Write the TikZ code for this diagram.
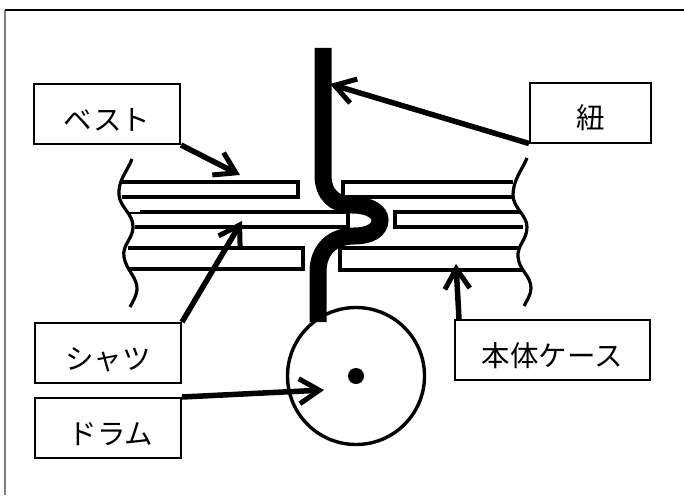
\documentclass[tikz,border=0pt]{standalone}
\usepackage{fontspec}
\newfontfamily\jpfont{Noto Sans CJK JP}
\usetikzlibrary{arrows.meta,positioning}

\begin{document}
\begin{tikzpicture}[
    x=1pt, y=-1pt,
    labelbox/.style={rectangle, draw=black, line width=2pt, fill=white, minimum height=60pt, inner sep=0pt, align=center, font=\jpfont\fontsize{28.5}{30}\selectfont, text height=32pt, text depth=0pt},
    arrow/.style={-{Straight Barb[length=20pt, width=25pt, line width=5pt]}, line width=5.5pt},
    layer/.style={line width=4pt, line join=miter},
    wavy/.style={line width=3.2pt, line cap=butt},
    cord/.style={line width=17pt, line cap=butt}
]
\useasboundingbox (0,0) rectangle (684,495);

% Frame
\draw[line width=1.2pt, gray] (5,495) -- (5,10);
\draw[line width=1.2pt] (5,10) -- (684,10);

% Vest layers
\draw[layer] (122,182) -- (298,182) -- (298,197) -- (122,197);
\draw[layer] (513,182) -- (343,182) -- (343,197) -- (513,197);

% Shirt layers
\draw[layer] (140,212) -- (348,212) -- (348,227) -- (135,227);
\draw[line width=1.5pt] (127,213) -- (142,213);
\draw[layer] (520,212) -- (395,212) -- (395,227) -- (523,227);

% Case layers
\draw[layer] (128,248) -- (303,248) -- (303,269) -- (128,269);
\draw[layer] (520,248) -- (340,248) -- (340,270) -- (522,270);

% Torn edges
\draw[wavy] (132,159) .. controls (127,172) and (118,180) .. (119,195)
    .. controls (120,208) and (134,214) .. (133,228)
    .. controls (132,240) and (122,245) .. (124,257)
    .. controls (126,270) and (138,278) .. (137,290)
    .. controls (136,297) and (133,301) .. (130,307);
\draw[wavy] (527,158) .. controls (522,170) and (513,180) .. (513,195)
    .. controls (513,208) and (527,215) .. (527,227)
    .. controls (527,240) and (517,245) .. (518,257)
    .. controls (519,270) and (531,276) .. (531,288)
    .. controls (531,295) and (527,300) .. (524,306);

% Drum
\node[circle, draw=black, line width=3.4pt, minimum size=137pt, inner sep=0pt] (drum) at (356,376) {};
\node[circle, fill=black, minimum size=16pt, inner sep=0pt] (axle) at (356,376) {};

% Cord
\draw[cord] (323,48) -- (323,175) .. controls (323,195) and (335,205) .. (352,205)
    .. controls (370,205) and (380,212) .. (380,220)
    .. controls (380,230) and (370,236) .. (354,236)
    .. controls (332,236) and (318,250) .. (318,272) -- (318,322);

% Labels
\node[labelbox, minimum width=146pt] (vest) at (107,114) {ベスト};
\node[labelbox, minimum width=121pt] (himo) at (590.5,112.5) {紐};
\node[labelbox, minimum width=146pt] (shirt) at (108,353) {シャツ};
\node[labelbox, minimum width=146pt, below=13pt of shirt] (drumlabel) {\hspace{6pt}ドラム};
\node[labelbox, minimum width=195pt] (casing) at (552.5,350) {本体ケース};

% Arrow targets
\coordinate (vesttip) at (240,175);
\coordinate (himotip) at (330,84);
\coordinate (shirttip) at (242,221);
\coordinate (drumtip) at (324,390);
\coordinate (casingtip) at (456,264);

% Arrows
\draw[arrow] (vest.south east) -- (vesttip);
\draw[arrow] (himo.south west) -- (himotip);
\draw[arrow] (shirt.north east) -- (shirttip);
\draw[arrow] (drumlabel.north east) -- (drumtip);
\draw[arrow] ([xshift=5pt]casing.north west) -- (casingtip);

\end{tikzpicture}
\end{document}
